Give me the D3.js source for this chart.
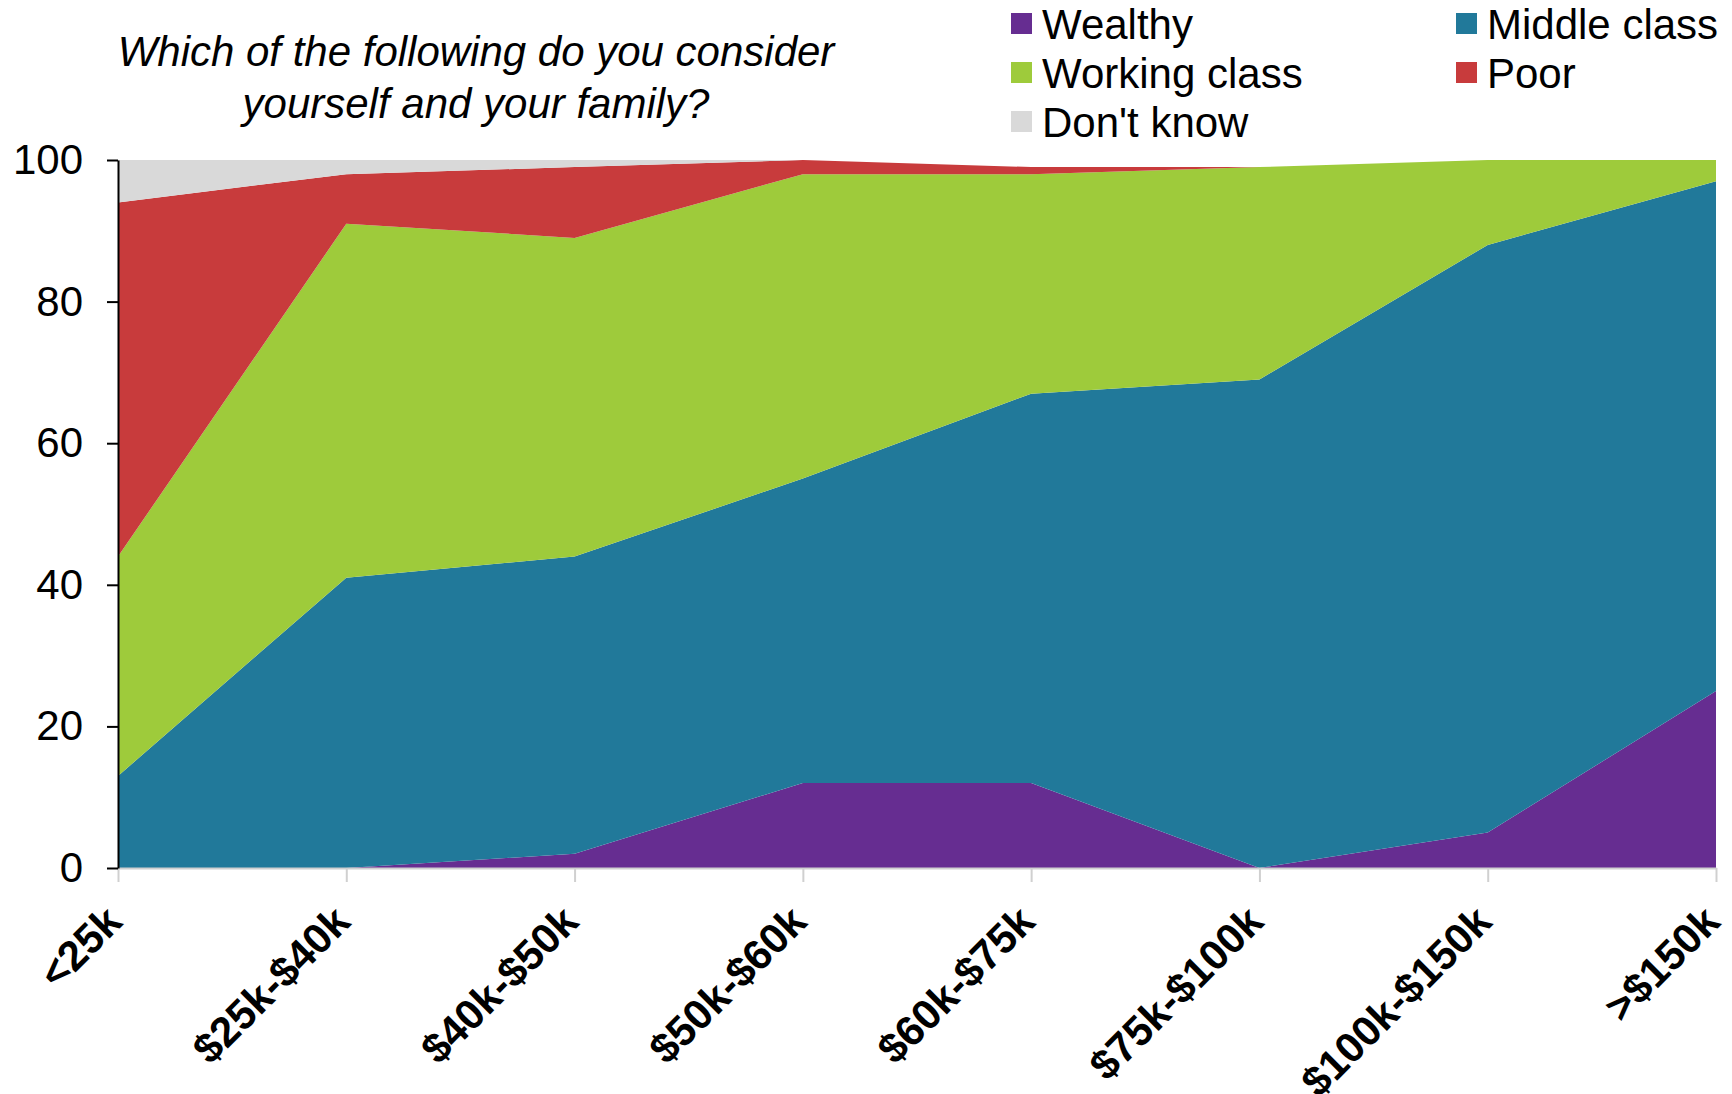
<!DOCTYPE html>
<html>
<head>
<meta charset="utf-8">
<script src="https://cdn.jsdelivr.net/npm/d3@7"></script>
<style>
  html, body { margin: 0; padding: 0; background: #fff; }
  svg { display: block; font-family: "Liberation Sans", Arial, sans-serif; }
</style>
</head>
<body>
<svg id="chart" width="1732" height="1094"></svg>
<script>
const categories = ["<25k", "$25k-$40k", "$40k-$50k", "$50k-$60k", "$60k-$75k", "$75k-$100k", "$100k-$150k", ">$150k"];
const seriesNames = ["Wealthy", "Middle class", "Working class", "Poor", "Don't know"];
const wealthy      = [0, 0, 2, 12, 12, 0, 5, 25];
const middleClass  = [13, 41, 42, 43, 55, 69, 83, 72];
const workingClass = [31, 50, 45, 43, 31, 30, 12, 3];
const poor         = [50, 7, 10, 2, 1, 0, 0, 0];
const dontKnow     = [6, 2, 1, 0, 0, 0, 0, 0];
const yTicks = [0, 20, 40, 60, 80, 100];
const colors = ["#662D91", "#21799A", "#9ECB3B", "#C83B3C", "#D9D9D9"];
const titleLines = ["Which of the following do you consider", "yourself and your family?"];

const seriesValues = [wealthy, middleClass, workingClass, poor, dontKnow];
const rows = categories.map((c, i) => {
  const r = { cat: c };
  seriesNames.forEach((s, k) => r[s] = seriesValues[k][i]);
  return r;
});

const svg = d3.select("#chart");
const mLeft = 118, mRight = 1716, mTop = 160, mBottom = 868;

const x = d3.scalePoint().domain(categories).range([mLeft, mRight]);
const y = d3.scaleLinear().domain([0, 100]).range([mBottom, mTop]);

const stacked = d3.stack().keys(seriesNames)(rows);
const area = d3.area()
  .x(d => x(d.data.cat))
  .y0(d => y(d[0]))
  .y1(d => y(d[1]));

svg.append("g").selectAll("path")
  .data(stacked)
  .join("path")
  .attr("d", area)
  .attr("fill", (d, i) => colors[i]);

// X axis
const xAxis = svg.append("g")
  .attr("transform", `translate(0,${mBottom})`)
  .call(d3.axisBottom(x).tickSize(14).tickSizeOuter(0).tickFormat(""));
xAxis.select(".domain").attr("stroke", "#d0d0d0").attr("stroke-width", 2);
xAxis.selectAll(".tick line").attr("stroke", "#d0d0d0").attr("stroke-width", 2);

svg.append("g").selectAll("text")
  .data(categories)
  .join("text")
  .attr("transform", d => `translate(${x(d) + 6},${mBottom + 56}) rotate(-45)`)
  .attr("text-anchor", "end")
  .attr("font-size", 42)
  .attr("font-weight", "bold")
  .attr("fill", "#000")
  .text(d => d);

// Y axis
const yAxis = svg.append("g")
  .attr("transform", `translate(${mLeft},0)`)
  .call(d3.axisLeft(y).tickValues(yTicks).tickSize(11).tickSizeOuter(0).tickPadding(24));
yAxis.select(".domain").attr("stroke", "#000").attr("stroke-width", 2);
yAxis.selectAll(".tick line").attr("stroke", "#000").attr("stroke-width", 2);
yAxis.selectAll(".tick text")
  .attr("font-size", 42)
  .attr("font-family", "Liberation Sans, Arial, sans-serif")
  .attr("fill", "#000");

// Title
svg.append("g").selectAll("text")
  .data(titleLines)
  .join("text")
  .attr("x", 476)
  .attr("y", (d, i) => 66 + i * 52)
  .attr("text-anchor", "middle")
  .attr("font-size", 42)
  .attr("font-style", "italic")
  .attr("fill", "#000")
  .text(d => d);

// Legend
const legendPos = [
  { col: 0, row: 0 }, { col: 1, row: 0 },
  { col: 0, row: 1 }, { col: 1, row: 1 },
  { col: 0, row: 2 }
];
const colX = [1011, 1456];
const rowY = [39, 88, 137];
const lg = svg.append("g").selectAll("g")
  .data(seriesNames)
  .join("g")
  .attr("transform", (d, i) => `translate(${colX[legendPos[i].col]},${rowY[legendPos[i].row]})`);
lg.append("rect")
  .attr("x", 0).attr("y", -26).attr("width", 21).attr("height", 21)
  .attr("fill", (d, i) => colors[i]);
lg.append("text")
  .attr("x", 31).attr("y", 0)
  .attr("font-size", 42)
  .attr("fill", "#000")
  .text(d => d);
</script>
</body>
</html>
